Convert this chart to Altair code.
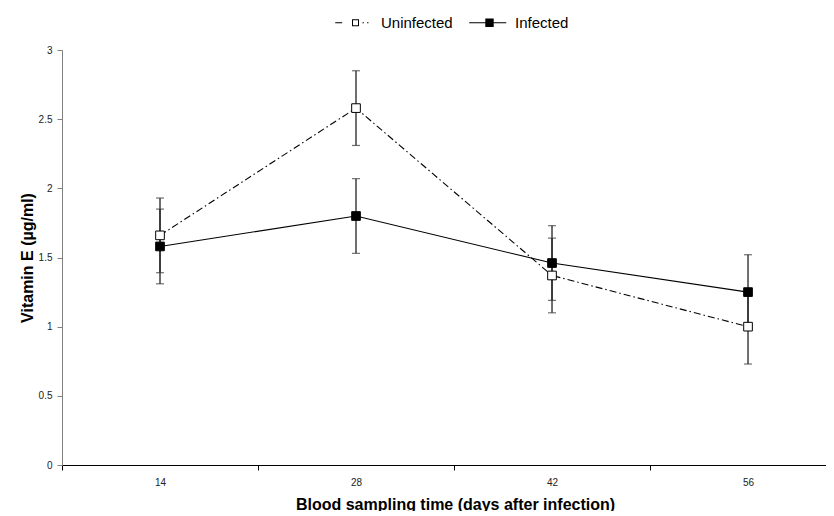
import altair as alt
import pandas as pd

# ---- data ----
days = [14, 28, 42, 56]
groups = ["Uninfected", "Infected"]
uninfected_mean = [1.66, 2.58, 1.37, 1.00]
uninfected_err = [0.27, 0.27, 0.27, 0.27]
infected_mean = [1.58, 1.80, 1.46, 1.25]
infected_err = [0.27, 0.27, 0.27, 0.27]
y_ticks = [0, 0.5, 1, 1.5, 2, 2.5, 3]
x_tick_marks = [7, 21, 35, 49]   # category boundaries; labels sit half a band to the right

rows = []
for g, means, errs in [("Uninfected", uninfected_mean, uninfected_err),
                       ("Infected", infected_mean, infected_err)]:
    for d, m, e in zip(days, means, errs):
        rows.append({"day": d, "group": g, "mean": m, "lo": m - e, "hi": m + e})
df = pd.DataFrame(rows)
df_u = df[df["group"] == "Uninfected"]
df_i = df[df["group"] == "Infected"]

FONT = "Liberation Sans"

x_scale = alt.Scale(domain=[7, 61.57], nice=False, zero=False)
y_scale = alt.Scale(domain=[0, 3], nice=False, zero=True)

x_axis = alt.Axis(
    values=x_tick_marks,
    labelExpr="datum.value + 7",
    labelOffset=98, labelFlush=False,
    tickSize=5, tickColor="black", domainColor="black",
    labelFontSize=10, labelColor="#222", labelPadding=7, grid=False,
    titleFontSize=16, titleFontWeight="bold", titleColor="black", titlePadding=9,
    titleX=393,
)
y_axis = alt.Axis(
    values=y_ticks, format="~g", tickSize=5, domainColor="#808080", tickColor="#808080",
    labelFontSize=10, labelColor="#222", labelPadding=5, grid=False,
    titleFontSize=16, titleFontWeight="bold",
    titleColor="black", titlePadding=3,
)
X_TITLE = "Blood sampling time (days after infection)"
Y_TITLE = "Vitamin E  (µg/ml)"

X = alt.X("day:Q", scale=x_scale, axis=x_axis, title=X_TITLE)

def Y(field):
    return alt.Y(field, type="quantitative", scale=y_scale, axis=y_axis, title=Y_TITLE)

# legend glyphs drawn as filled geometry: open square (ring) with dash-dot, filled square with solid line
legend_paths = [
    "M-0.5,-0.5H0.5V0.5H-0.5Z M-0.36,-0.36V0.36H0.36V-0.36Z "
    "M-2.9,-0.08H-1.9V0.08H-2.9Z M1.0,-0.08H1.2V0.08H1.0Z M1.65,-0.08H1.85V0.08H1.65Z",
    "M-0.6,-0.6H0.6V0.6H-0.6Z M-2.9,-0.08H-0.6V0.08H-2.9Z M0.6,-0.08H2.4V0.08H0.6Z",
]
fill_scale = alt.Scale(domain=groups, range=["black", "black"])
shape_scale = alt.Scale(domain=groups, range=legend_paths)

line_u = alt.Chart(df_u).mark_line(color="black", strokeWidth=1.1,
                                   strokeDash=[7, 3, 1.5, 3]).encode(x=X, y=Y("mean"))
line_i = alt.Chart(df_i).mark_line(color="black", strokeWidth=1.1).encode(x=X, y=Y("mean"))

base = alt.Chart(df)
err_rules = base.mark_rule(color="#222", strokeWidth=1.3).encode(
    x=X, y=Y("lo"), y2="hi:Q"
)
cap_lo = base.mark_tick(orient="horizontal", size=8, thickness=1.2, color="#333").encode(
    x=X, y=Y("lo")
)
cap_hi = base.mark_tick(orient="horizontal", size=8, thickness=1.2, color="#333").encode(
    x=X, y=Y("hi")
)

pts_u = alt.Chart(df_u).mark_point(shape="square", size=75, filled=True, fill="white",
                                   stroke="black", strokeWidth=1, opacity=1).encode(
    x=X, y=Y("mean"))
pts_i = alt.Chart(df_i).mark_point(shape="square", size=75, filled=True, fill="black",
                                   stroke="black", strokeWidth=1, opacity=1).encode(
    x=X, y=Y("mean"))

legend = alt.Legend(
    title=None, orient="none", direction="horizontal", legendX=286, legendY=-35,
    labelFontSize=15, labelFont=FONT, labelColor="black", labelOffset=18,
    columnPadding=14, symbolStrokeColor="black", symbolStrokeWidth=1,
    symbolSize=196, symbolOpacity=1, padding=0,
)

# invisible layer that only carries the legend (marks drawn with opacity 0)
legend_layer = base.mark_point(size=196, filled=True, stroke="black", strokeWidth=1,
                               opacity=0).encode(
    x=X, y=Y("mean"),
    shape=alt.Shape("group:N", scale=shape_scale, legend=legend),
    fill=alt.Fill("group:N", scale=fill_scale, legend=legend),
)

chart = alt.layer(line_u, line_i, err_rules, cap_lo, cap_hi, pts_u, pts_i,
                  legend_layer).properties(
    width=764, height=415,
    autosize=alt.AutoSizeParams(type="none"),
    padding={"left": 54, "top": 42, "right": 0, "bottom": 46},
).configure(font=FONT).configure_view(stroke=None)

chart.save("out.html", embed_options={"renderer": "svg", "actions": False})
